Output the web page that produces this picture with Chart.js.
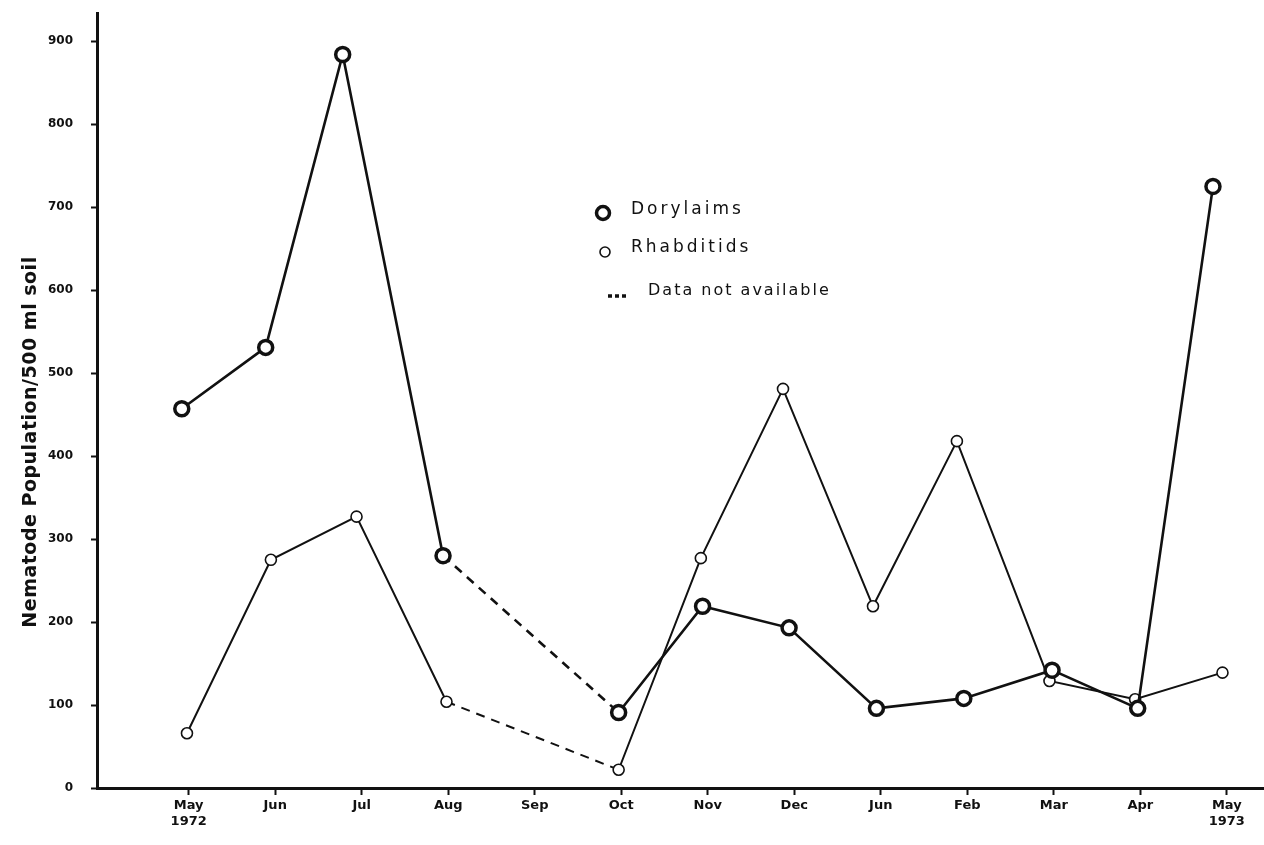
<!DOCTYPE html>
<html>
<head>
<meta charset="utf-8">
<script src="https://cdn.jsdelivr.net/npm/chart.js@4"></script>
<style>
  body { margin: 0; background: #fff; }
  #wrap { width: 1264px; height: 845px; }
</style>
</head>
<body>
<div id="wrap"><canvas id="nemaChart"></canvas></div>
<script>
// month labels along the bottom (as lettered on the original)
const monthLabels = ['May', 'Jun', 'Jul', 'Aug', 'Sep', 'Oct', 'Nov', 'Dec', 'Jun', 'Feb', 'Mar', 'Apr', 'May'];
const yearLabels  = ['1972', '', '', '', '', '', '', '', '', '', '', '', '1973'];
const yTicks = [0, 100, 200, 300, 400, 500, 600, 700, 800, 900];

// sampling positions (in months from May 1972) and counts; Sep = no data
const doryX = [-0.08, 0.89, 1.78, 2.94, 4, 4.97, 5.94, 6.94, 7.95, 8.96, 9.98, 10.97, 11.84];
const doryY = [457, 531, 884, 280, null, 91, 219, 193, 96, 108, 142, 96, 725];
const rhabX = [-0.02, 0.95, 1.94, 2.98, 4, 4.97, 5.92, 6.87, 7.91, 8.88, 9.95, 10.94, 11.95];
const rhabY = [66, 275, 327, 104, null, 22, 277, 481, 219, 418, 129, 107, 139];

const yTitle = 'Nematode Population/500 ml soil';
const legendItems = ['Dorylaims', 'Rhabditids', 'Data not available'];

const ink = '#111';
const FONT = '"DejaVu Sans", sans-serif';

const gapDash = ctx => (ctx.p0.skip || ctx.p1.skip) ? [9, 7] : undefined;

function toPoints(xs, ys) {
    return xs.map((x, i) => ({ x: x, y: ys[i] }));
}

// hand-drawn style legend + rotated axis title
const overlay = {
    id: 'overlay',
    afterDraw(chart) {
        const c = chart.ctx;
        c.save();
        c.fillStyle = ink;
        c.strokeStyle = ink;

        c.save();
        c.translate(31, 442);
        c.rotate(-Math.PI / 2);
        c.font = 'bold 19px ' + FONT;
        c.textAlign = 'center';
        c.textBaseline = 'middle';
        if ('letterSpacing' in c) c.letterSpacing = '0.5px';
        c.fillText(yTitle, 0, 0);
        c.restore();

        // Dorylaims marker
        c.beginPath();
        c.lineWidth = 3.5;
        c.fillStyle = '#fff';
        c.arc(603, 213, 6.5, 0, Math.PI * 2);
        c.fill(); c.stroke();
        // Rhabditids marker
        c.beginPath();
        c.lineWidth = 1.6;
        c.arc(605, 252, 5, 0, Math.PI * 2);
        c.fill(); c.stroke();
        // dashes
        c.beginPath();
        c.lineWidth = 3.5;
        c.setLineDash([4, 3]);
        c.moveTo(608, 296);
        c.lineTo(626, 296);
        c.stroke();
        c.setLineDash([]);

        c.fillStyle = ink;
        c.font = '17px ' + FONT;
        c.textAlign = 'left';
        c.textBaseline = 'middle';
        if ('letterSpacing' in c) c.letterSpacing = '3px';
        c.fillText(legendItems[0], 631, 210);
        c.fillText(legendItems[1], 631, 248);
        c.font = '16px ' + FONT;
        if ('letterSpacing' in c) c.letterSpacing = '2px';
        c.fillText(legendItems[2], 648, 291);
        c.restore();
    }
};

const ctx = document.getElementById('nemaChart').getContext('2d');
const nemaChart = new Chart(ctx, {
    type: 'line',
    data: {
        datasets: [
            {
                label: legendItems[0],
                data: toPoints(doryX, doryY),
                borderColor: ink,
                borderWidth: 2.6,
                pointRadius: 7,
                pointBorderWidth: 3.5,
                pointBackgroundColor: '#fff',
                pointBorderColor: ink,
                tension: 0,
                spanGaps: true,
                segment: { borderDash: gapDash }
            },
            {
                label: legendItems[1],
                data: toPoints(rhabX, rhabY),
                borderColor: ink,
                borderWidth: 2,
                pointRadius: 5.5,
                pointBorderWidth: 1.6,
                pointBackgroundColor: '#fff',
                pointBorderColor: ink,
                tension: 0,
                spanGaps: true,
                segment: { borderDash: gapDash }
            }
        ]
    },
    options: {
        responsive: true,
        maintainAspectRatio: false,
        animation: false,
        layout: { autoPadding: false, padding: { top: 13, right: 0, left: 0, bottom: 0 } },
        plugins: {
            legend: { display: false },
            tooltip: { enabled: false }
        },
        scales: {
            x: {
                type: 'linear',
                min: -1.06,
                max: 12.43,
                afterBuildTicks: axis => {
                    axis.ticks = monthLabels.map((_, i) => ({ value: i }));
                },
                afterFit: scale => {
                    scale.height = 57;
                    scale.paddingLeft = 0;
                    scale.paddingRight = 0;
                },
                border: { display: true, color: ink, width: 3 },
                grid: {
                    drawOnChartArea: false,
                    drawTicks: true,
                    tickLength: 7,
                    tickWidth: 2,
                    color: ink
                },
                ticks: {
                    color: ink,
                    padding: 3,
                    maxRotation: 0,
                    autoSkip: false,
                    font: { family: FONT, size: 13, weight: 'bold' },
                    callback: v => yearLabels[v] ? [monthLabels[v], yearLabels[v]] : monthLabels[v]
                }
            },
            y: {
                min: 0,
                max: 934,
                afterBuildTicks: axis => {
                    axis.ticks = yTicks.map(v => ({ value: v }));
                },
                afterFit: scale => {
                    scale.width = 97;
                    scale.paddingTop = 0;
                    scale.paddingBottom = 0;
                },
                border: { display: true, color: ink, width: 3 },
                grid: {
                    drawOnChartArea: false,
                    drawTicks: true,
                    tickLength: 6,
                    tickWidth: 2,
                    color: ink
                },
                ticks: {
                    color: ink,
                    padding: 18,
                    font: { family: FONT, size: 12, weight: 'bold' }
                }
            }
        }
    },
    plugins: [overlay]
});
</script>
</body>
</html>
